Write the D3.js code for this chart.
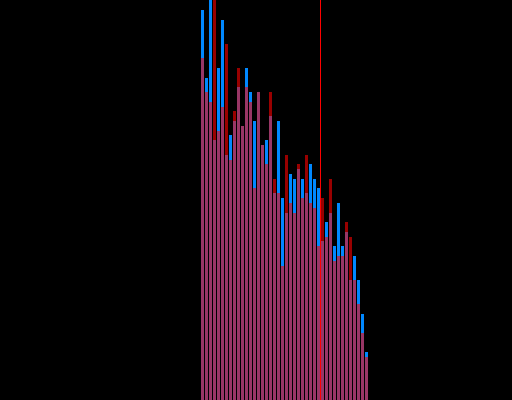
<!DOCTYPE html>
<html>
<head>
<meta charset="utf-8">
<script src="https://cdn.jsdelivr.net/npm/d3@7"></script>
<style>
html, body { margin: 0; padding: 0; background: #000; }
svg { display: block; }
</style>
</head>
<body>
<svg id="chart" width="512" height="400"></svg>
<script>
// Bin lower edges (each bin is 1 unit wide)
const binStarts = d3.range(50, 92);
// Series counts per bin
const blueValues = [390, 322, 410, 260, 332, 380, 245, 265, 279, 313, 274, 332, 308, 279, 308, 255, 260, 284, 207, 279, 202, 187, 226, 221, 231, 221, 207, 236, 221, 212, 159, 178, 187, 154, 197, 154, 168, 120, 144, 120, 86, 48];
const redValues  = [342, 308, 298, 410, 269, 293, 356, 240, 289, 332, 274, 313, 298, 212, 308, 255, 236, 308, 221, 207, 134, 245, 197, 187, 236, 202, 245, 197, 192, 154, 202, 163, 221, 139, 144, 144, 178, 163, 120, 96, 67, 43];
const threshold = 80;

const W = 512, H = 400;
const svg = d3.select("#chart");
svg.append("rect").attr("width", W).attr("height", H).attr("fill", "#000");

const x = d3.scaleLinear().domain([0, 128]).range([0, W]);
const y = d3.scaleLinear().domain([0, 400]).range([H, 0]);

const blueData = binStarts.map((b, i) => ({x0: b, x1: b + 1, v: blueValues[i]}));
const redData = binStarts.map((b, i) => ({x0: b, x1: b + 1, v: redValues[i]}));

function drawBars(data, fill, opacity) {
  svg.append("g").selectAll("rect").data(data).join("rect")
    .attr("x", d => x(d.x0) + 1)
    .attr("width", d => x(d.x1) - x(d.x0) - 1)
    .attr("y", d => y(d.v))
    .attr("height", d => y(0) - y(d.v))
    .attr("fill", fill)
    .attr("fill-opacity", opacity)
    .attr("shape-rendering", "crispEdges");
}
drawBars(blueData, "rgb(0,136,255)", 1);
drawBars(redData, "rgb(255,0,0)", 0.6);

svg.append("line")
  .attr("x1", x(threshold) + 0.5).attr("x2", x(threshold) + 0.5)
  .attr("y1", 0).attr("y2", H)
  .attr("stroke", "#ff0000")
  .attr("stroke-width", 1)
  .attr("shape-rendering", "crispEdges");
</script>
</body>
</html>
